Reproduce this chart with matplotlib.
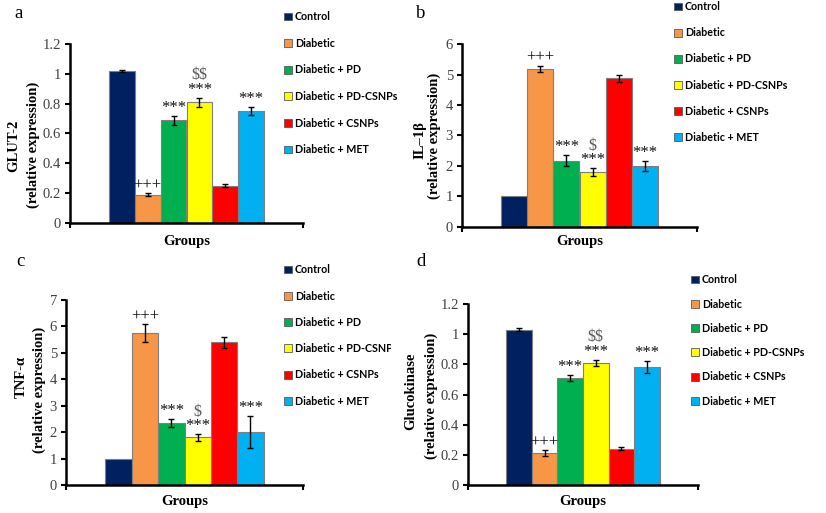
import matplotlib
matplotlib.use("Agg")
import matplotlib.pyplot as plt
from matplotlib.patches import Patch
from matplotlib.transforms import Bbox

plt.rcParams["text.parse_math"] = False

groups = ["Control", "Diabetic", "Diabetic + PD", "Diabetic + PD-CSNPs",
          "Diabetic + CSNPs", "Diabetic + MET"]
colors = ["#002060", "#F79646", "#00B050", "#FFFF00", "#FF0000", "#00B0F0"]

glut2 = [1.02, 0.19, 0.69, 0.81, 0.25, 0.75]
glut2_err = [0.006, 0.01, 0.03, 0.03, 0.01, 0.025]
glut2_marks = ["", "+++", "***", "$$\n***", "", "***"]

il1b = [1.0, 5.18, 2.18, 1.80, 4.87, 2.0]
il1b_err = [0.0, 0.11, 0.18, 0.12, 0.13, 0.18]
il1b_marks = ["", "+++", "***", "$\n***", "", "***"]

tnfa = [1.0, 5.75, 2.35, 1.80, 5.40, 2.0]
tnfa_err = [0.0, 0.33, 0.15, 0.12, 0.20, 0.60]
tnfa_marks = ["", "+++", "***", "$\n***", "", "***"]

gck = [1.03, 0.21, 0.71, 0.81, 0.24, 0.78]
gck_err = [0.008, 0.02, 0.02, 0.02, 0.01, 0.04]
gck_marks = ["", "+++", "***", "$$\n***", "", "***"]

W, H = 826, 513
fig = plt.figure(figsize=(W / 100, H / 100), dpi=100)

SERIF = ["Liberation Serif", "DejaVu Serif"]
SANS = ["Lato", "DejaVu Sans"]


def fx(x):
    return x / W


def fy(y):
    return 1 - y / H


panels = [
    dict(letter="a", vals=glut2, err=glut2_err, marks=glut2_marks, yl="GLUT-2",
         box=(70, 303, 44, 223), ymax=1.2, step=0.2, lpos=(19, 13),
         yl1=(14, 146), yl2=(33, 145), leg=(281, 8, 26.3), grp=241, clip=None),
    dict(letter="b", vals=il1b, err=il1b_err, marks=il1b_marks, yl="IL–1β",
         box=(462, 697, 44, 227), ymax=6, step=1, lpos=(421, 13),
         yl1=(420, 140), yl2=(434, 136), leg=(671, -2, 25.8), grp=241, clip=None),
    dict(letter="c", vals=tnfa, err=tnfa_err, marks=tnfa_marks, yl="TNF-α",
         box=(66, 303, 300, 485), ymax=7, step=1, lpos=(20, 262),
         yl1=(21, 377), yl2=(39, 390), leg=(281, 261, 26.0), grp=502, clip=391),
    dict(letter="d", vals=gck, err=gck_err, marks=gck_marks, yl="Glucokinase",
         box=(468, 698, 304, 485), ymax=1.2, step=0.2, lpos=(421, 262),
         yl1=(411, 391), yl2=(431, 396), leg=(688, 271, 24.0), grp=502, clip=None),
]

for p in panels:
    x0, x1, yt, yb = p["box"]
    ax = fig.add_axes([fx(x0), fy(yb), fx(x1) - fx(x0), (yb - yt) / H])
    xs = list(range(len(groups)))
    ax.bar(xs, p["vals"], width=1.0, color=colors, edgecolor="#7f7f7f",
           linewidth=0.8, zorder=2)
    ex = [x for x, e in zip(xs, p["err"]) if e > 0]
    ev = [v for v, e in zip(p["vals"], p["err"]) if e > 0]
    ee = [e for e in p["err"] if e > 0]
    ax.errorbar(ex, ev, yerr=ee, fmt="none", ecolor="black",
                elinewidth=1.0, capsize=2.5, capthick=1.0, zorder=3)
    ax.set_xlim(-2.0, 7.0)
    ax.set_ylim(0, p["ymax"])
    n = int(round(p["ymax"] / p["step"]))
    ticks = [i * p["step"] for i in range(n + 1)]
    ax.set_yticks(ticks)
    if p["step"] < 1:
        labs = [("0" if t == 0 else ("1" if abs(t - 1) < 1e-9 else f"{t:.1f}")) for t in ticks]
    else:
        labs = [f"{int(t)}" for t in ticks]
    ax.set_yticklabels(labs, fontfamily=SERIF, fontsize=10.5, color="#404040")
    ax.set_xticks([-2.0, 7.0])
    ax.set_xticklabels([])
    ax.tick_params(axis="both", direction="out", length=3.5, width=1.5,
                   color="black", pad=3)
    for s in ["top", "right"]:
        ax.spines[s].set_visible(False)
    for s in ["left", "bottom"]:
        ax.spines[s].set_linewidth(1.8)
    ax.patch.set_alpha(0)
    fig.text(fx((x0 + x1) / 2), fy(p["grp"]), "Groups", fontfamily=SERIF,
             fontsize=10.5, fontweight="bold", ha="center", va="center")

    for i, m in enumerate(p["marks"]):
        if not m:
            continue
        top = p["vals"][i] + p["err"][i]
        parts = m.split("\n")
        stars = parts[-1]
        ax.annotate(stars, (i, top), xytext=(0, 0), textcoords="offset points",
                    ha="center", va="bottom", fontfamily=SERIF, fontsize=12,
                    color="#111111")
        if len(parts) > 1:
            ax.annotate(parts[0], (i, top), xytext=(0, 10.5),
                        textcoords="offset points", ha="center", va="bottom",
                        fontfamily=SERIF, fontsize=11.5, color="#595959")

    fig.text(fx(p["lpos"][0]), fy(p["lpos"][1]), p["letter"], fontfamily=SERIF,
             fontsize=13.5, ha="center", va="center")
    fig.text(fx(p["yl1"][0]), fy(p["yl1"][1]), p["yl"], fontfamily=SERIF,
             fontsize=10.5, fontweight="bold", rotation=90, ha="center",
             va="center")
    fig.text(fx(p["yl2"][0]), fy(p["yl2"][1]), "(relative expression)",
             fontfamily=SERIF, fontsize=10.5, fontweight="bold", rotation=90,
             ha="center", va="center")

    lx, ly, sp = p["leg"]
    handles = [Patch(facecolor=c, edgecolor="#595959", linewidth=0.6) for c in colors]
    fs = 7.7
    leg = fig.legend(handles, groups, loc="upper left",
                     bbox_to_anchor=(fx(lx), fy(ly)), frameon=False,
                     prop=dict(family=SANS, weight="bold", size=fs),
                     handlelength=0.75, handleheight=0.75, handletextpad=0.25,
                     labelspacing=(sp / (fs * 100 / 72)) - 1.0,
                     borderpad=0.3, borderaxespad=0)
    if p["clip"] is not None:
        cb = Bbox([[0, 0], [p["clip"], H]])
        for t in leg.get_texts():
            t.set_clip_box(cb)
            t.set_clip_on(True)

fig.savefig("out.png", dpi=100, facecolor="white")
